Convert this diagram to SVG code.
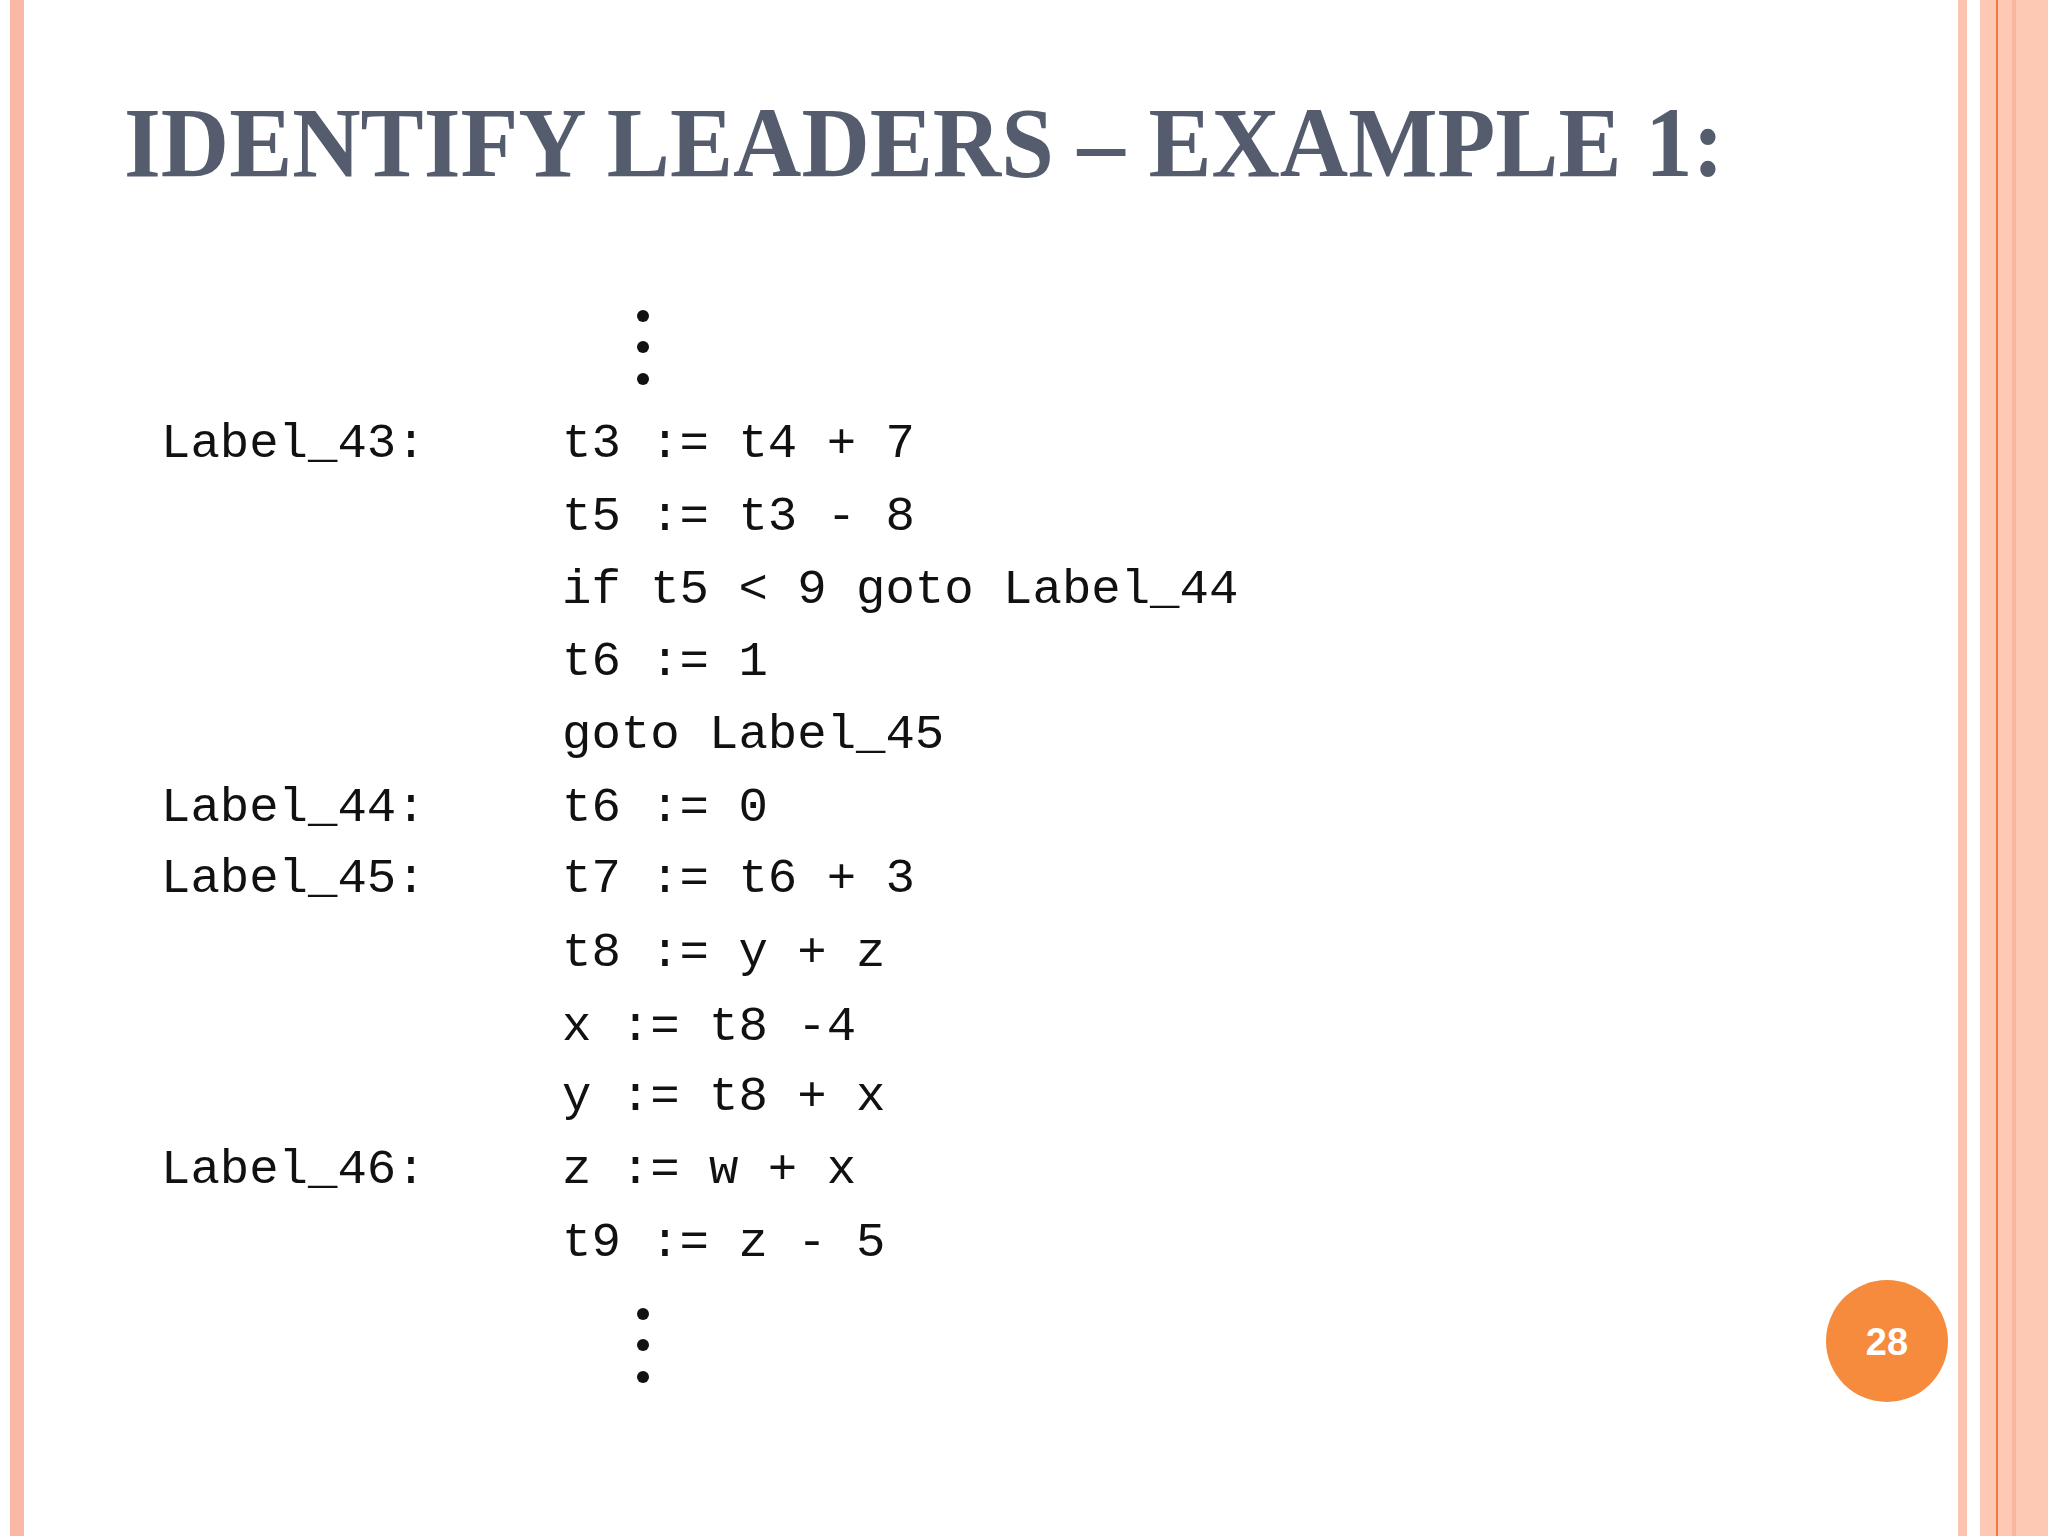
<svg xmlns="http://www.w3.org/2000/svg" width="2048" height="1536" viewBox="0 0 2048 1536">
<style>
.c{font-family:"Liberation Mono","DejaVu Sans Mono",monospace;font-size:49px;fill:#111}
.d{fill:#111}
</style>
<rect width="2048" height="1536" fill="#fff"/>
<rect x="10" y="0" width="14" height="1536" fill="#f9b9a4"/>
<rect x="1958" y="0" width="9" height="1536" fill="#fcc4b0"/>
<rect x="1980" y="0" width="68" height="1536" fill="#fdc8b4"/>
<rect x="2012" y="0" width="4" height="1536" fill="#f9b59d"/>
<rect x="1996" y="0" width="2" height="1536" fill="#ee7a3e"/>
<g id="title"><text x="124" y="176" font-family="Liberation Serif,serif" font-weight="bold" font-size="100" fill="#545c6e" textLength="1600" lengthAdjust="spacingAndGlyphs">IDENTIFY LEADERS – EXAMPLE 1:</text></g>
<g id="code">
<circle class="d" cx="643" cy="316" r="6"/><circle class="d" cx="643" cy="347" r="6"/><circle class="d" cx="643" cy="379" r="6"/>
<text class="c" x="161" y="457">Label_43:</text>
<text class="c" x="562" y="457">t3 := t4 + 7</text>
<text class="c" x="562" y="530">t5 := t3 - 8</text>
<text class="c" x="562" y="603">if t5 &lt; 9 goto Label_44</text>
<text class="c" x="562" y="675">t6 := 1</text>
<text class="c" x="562" y="748">goto Label_45</text>
<text class="c" x="161" y="821">Label_44:</text>
<text class="c" x="562" y="821">t6 := 0</text>
<text class="c" x="161" y="892">Label_45:</text>
<text class="c" x="562" y="892">t7 := t6 + 3</text>
<text class="c" x="562" y="966">t8 := y + z</text>
<text class="c" x="562" y="1040">x := t8 -4</text>
<text class="c" x="562" y="1110">y := t8 + x</text>
<text class="c" x="161" y="1183">Label_46:</text>
<text class="c" x="562" y="1183">z := w + x</text>
<text class="c" x="562" y="1256">t9 := z - 5</text>
<circle class="d" cx="643" cy="1314" r="6"/><circle class="d" cx="643" cy="1345" r="6"/><circle class="d" cx="643" cy="1377" r="6"/>
</g>
<g id="page"><circle cx="1887" cy="1341" r="61" fill="#f68b3d"/><text x="1887" y="1355" text-anchor="middle" font-family="Liberation Sans,sans-serif" font-weight="bold" font-size="38" fill="#fff">28</text></g>
</svg>
